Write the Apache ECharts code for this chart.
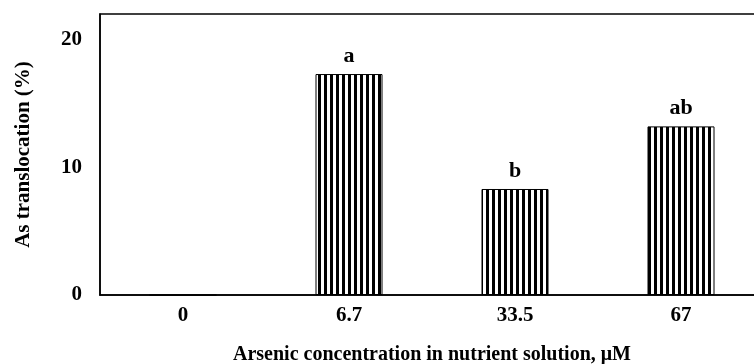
<!DOCTYPE html>
<html><head><meta charset="utf-8">
<script src="https://cdn.jsdelivr.net/npm/echarts@6/dist/echarts.min.js"></script>
<style>html,body{margin:0;padding:0;background:#fff}#c{width:754px;height:364px}</style>
</head><body><div id="c"></div>
<script>
const categories = ['0', '6.7', '33.5', '67'];
const values = [0, 17.3, 8.3, 13.2];
const letters = ['', 'a', 'b', 'ab'];
const yTicks = [0, 10, 20];

const pc = document.createElement('canvas');
pc.width = 6; pc.height = 4;
const ctx = pc.getContext('2d');
ctx.fillStyle = '#fff'; ctx.fillRect(0, 0, 6, 4);
ctx.fillStyle = '#000'; ctx.fillRect(0, 0, 3, 4);

const font = '"Liberation Serif", "Times New Roman", serif';
const chart = echarts.init(document.getElementById('c'), null, {renderer: 'canvas'});
chart.setOption({
  animation: false,
  grid: {left: 100, width: 664, top: 14, bottom: 69, outerBoundsMode: 'none', containLabel: false,
    show: true, borderColor: '#000', borderWidth: 1.5, backgroundColor: 'transparent'},
  xAxis: {
    type: 'category', data: categories,
    axisLine: {lineStyle: {color: '#000', width: 1.5}},
    axisTick: {show: false},
    axisLabel: {color: '#000', fontFamily: font, fontWeight: 'bold', fontSize: 21, margin: 10},
    name: 'Arsenic concentration in nutrient solution, \u03bcM',
    nameLocation: 'middle', nameGap: 50,
    nameTextStyle: {color: '#000', fontFamily: font, fontWeight: 'bold', fontSize: 20}
  },
  yAxis: {
    type: 'value', min: 0, max: 22, interval: 10,
    axisLine: {show: true, lineStyle: {color: '#000', width: 1.5}},
    axisTick: {show: false},
    splitLine: {show: false},
    axisLabel: {color: '#000', fontFamily: font, fontWeight: 'bold', fontSize: 21, margin: 18,
      formatter: v => yTicks.includes(v) ? String(v) : ''},
    name: 'As translocation (%)',
    nameLocation: 'middle', nameGap: 66, nameRotate: 90,
    nameTextStyle: {color: '#000', fontFamily: font, fontWeight: 'bold', fontSize: 21}
  },
  series: [{
    type: 'bar', data: values, barWidth: 67,
    itemStyle: {color: {image: pc, repeat: 'repeat'}, borderColor: '#000', borderWidth: 1},
    label: {show: true, position: 'top', distance: 7, color: '#000', fontFamily: font, fontWeight: 'bold', fontSize: 22,
      formatter: p => letters[p.dataIndex]}
  }]
});
</script></body></html>
